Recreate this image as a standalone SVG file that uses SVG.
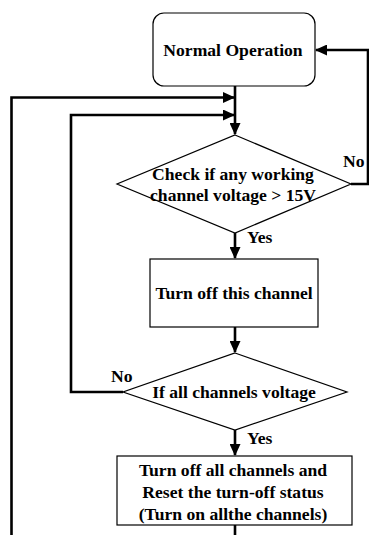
<svg xmlns="http://www.w3.org/2000/svg" width="369" height="535" viewBox="0 0 369 535">
<style>
.shape{fill:#fff;stroke:#000;stroke-width:1.2}
.t{font-family:"Liberation Serif","Times New Roman",serif;font-weight:bold;font-size:17.6px;fill:#000;text-anchor:middle}
.l{font-family:"Liberation Serif","Times New Roman",serif;font-weight:bold;font-size:17.6px;fill:#000}
.c{fill:none;stroke:#000;stroke-width:2.6}
</style>
<defs>
<marker id="ah" markerUnits="userSpaceOnUse" markerWidth="12" markerHeight="11" refX="11" refY="5.5" orient="auto">
<path d="M0,0 L12,5.5 L0,11 z" fill="#000"/>
</marker>
</defs>
<rect width="369" height="535" fill="#fff"/>
<g id="connectors">
<path class="c" d="M351 184 H368 V50 H316" marker-end="url(#ah)"/>
<path class="c" d="M235 86 V134" marker-end="url(#ah)"/>
<path class="c" d="M11.5 535 V97.5 H234" marker-end="url(#ah)"/>
<path class="c" d="M123 392 H71 V115 H234" marker-end="url(#ah)"/>
<path class="c" d="M235 233 V258" marker-end="url(#ah)"/>
<path class="c" d="M235 327 V352" marker-end="url(#ah)"/>
<path class="c" d="M235 430 V455" marker-end="url(#ah)"/>
<path class="c" d="M235 525 V535"/>
<text class="l" x="343" y="167">No</text>
<text class="l" x="247" y="243">Yes</text>
<text class="l" x="111" y="382">No</text>
<text class="l" x="247" y="444">Yes</text>
</g>
<g id="normal">
<rect class="shape" x="153" y="13" width="162" height="73" rx="11"/>
<text class="t" x="233" y="56">Normal Operation</text>
</g>
<g id="check">
<polygon class="shape" points="235,135 351,184 235,233 117,184"/>
<text class="t" x="233" y="180">Check if any working</text>
<text class="t" x="233" y="201">channel voltage &gt; 15V</text>
</g>
<g id="turnoff">
<rect class="shape" x="150" y="259" width="168" height="68"/>
<text class="t" x="234" y="299">Turn off this channel</text>
</g>
<g id="ifall">
<polygon class="shape" points="235,353 347,392 235,430 123,392"/>
<text class="t" x="234" y="398">If all channels voltage</text>
</g>
<g id="reset">
<rect class="shape" x="117" y="456" width="235" height="69"/>
<text class="t" x="233" y="476">Turn off all channels and</text>
<text class="t" x="233" y="498">Reset the turn-off status</text>
<text class="t" x="233" y="520">(Turn on allthe channels)</text>
</g>
</svg>
